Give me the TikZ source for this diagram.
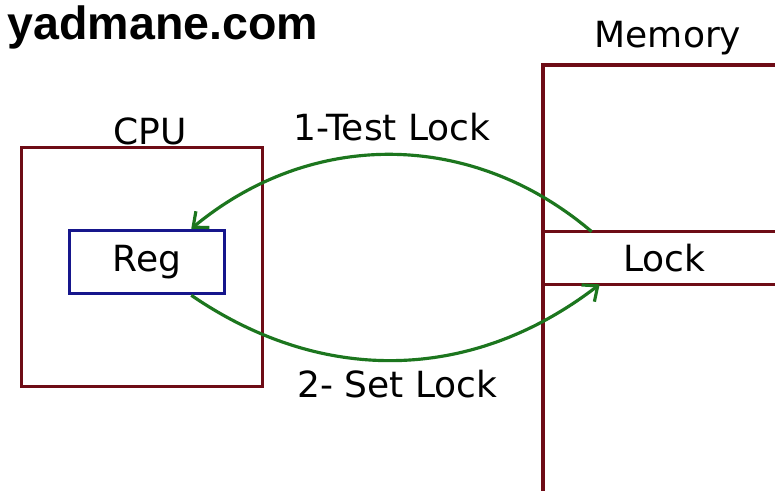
\documentclass[tikz,border=0pt]{standalone}
\usepackage{fontspec}
\setmainfont{DejaVu Sans}
\newfontfamily\titlefont{Liberation Sans}
\usetikzlibrary{arrows.meta}

\definecolor{boxred}{RGB}{110,12,22}
\definecolor{regblue}{RGB}{22,22,140}
\definecolor{arrowgreen}{RGB}{28,118,30}

\begin{document}
\begin{tikzpicture}[x=0.02cm, y=-0.02cm, >={Straight Barb[length=7pt,width=12pt]},
  lbl/.style={font=\fontsize{20.5}{24}\selectfont, inner sep=0pt},
  box/.style={draw=boxred, line width=2pt},
  flow/.style={->, draw=arrowgreen, line width=1.8pt}]
\useasboundingbox[fill=white] (0,0) rectangle (775,491);
\node[font=\titlefont\bfseries\fontsize{26.5}{30}\selectfont, inner sep=0pt] (site) at (163,27) {yadmane.com};
\node[box, minimum width=4.82cm, minimum height=4.78cm] (cpu) at (142,267) {};
\node[lbl] (cpulbl) at (150,131) {CPU};
\node[draw=regblue, line width=2pt, minimum width=3.1cm, minimum height=1.26cm, font=\fontsize{20.5}{24}\selectfont] (reg) at (147,262) {Reg};
\node[lbl] (memlbl) at (668,38) {Memory};
\node[lbl, minimum width=4.64cm, minimum height=1.04cm] (lock) at (659,258) {\hspace{6pt}Lock};
\draw[box] (775,65) -| (543,491);
\draw[box] (lock.north west) -- (lock.north east);
\draw[box] (lock.south west) -- (lock.south east);
\draw[flow] ([xshift=0.98cm]lock.north west) to[bend right=40] node[lbl, above=7pt, text=black] (test) {1-Test Lock} ([xshift=-0.7cm]reg.north east);
\draw[flow] ([xshift=-0.7cm]reg.south east) to[bend right=36] node[lbl, below=5pt, text=black] (set) {2- Set Lock} ([xshift=1.14cm]lock.south west);
\end{tikzpicture}
\end{document}
